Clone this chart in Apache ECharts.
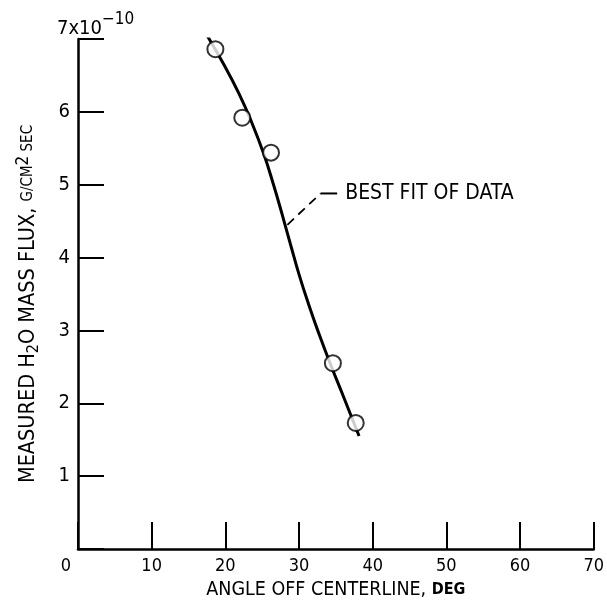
<!DOCTYPE html>
<html>
<head>
<meta charset="utf-8">
<script src="https://cdn.jsdelivr.net/npm/echarts@6/dist/echarts.min.js"></script>
<style>
html,body{margin:0;padding:0;background:#fff;}
#chart{width:607px;height:606px;}
</style>
</head>
<body>
<div id="chart"></div>
<script>
// ---- data ----
const xTicks = [0, 10, 20, 30, 40, 50, 60, 70];
const yTicks = [0, 1, 2, 3, 4, 5, 6, 7];
const measuredPoints = [[18.65, 6.86], [22.3, 5.92], [26.2, 5.44], [34.6, 2.55], [37.7, 1.73]];
const bestFitCurve = [
  [17.39, 7.07], [19.74, 6.66], [21.85, 6.25], [23.68, 5.83], [25.22, 5.42],
  [26.51, 5.01], [27.69, 4.60], [28.82, 4.19], [30.00, 3.77], [31.30, 3.36],
  [32.72, 2.95], [34.26, 2.54], [35.88, 2.13], [38.15, 1.55]
];
const leaderDashed = [[28.42, 4.45], [32.93, 4.88]];
const leaderSolid = [[32.93, 4.88], [35.18, 4.88]];
const annotationText = 'BEST FIT OF DATA';
const xTitle = 'ANGLE OFF CENTERLINE, ';
const xTitleUnit = 'DEG';
const yScaleMantissa = '7x10';
const yScaleExponent = '−10';

const FONT = '"DejaVu Sans Condensed", "Liberation Sans Narrow", "DejaVu Sans", sans-serif';

const chart = echarts.init(document.getElementById('chart'), null, {renderer: 'canvas'});
chart.setOption({
  backgroundColor: '#fff',
  animation: false,
  textStyle: {fontFamily: FONT, color: '#000'},
  title: {
    text: '{a|' + yScaleMantissa + '}{s|' + yScaleExponent + '}',
    left: 57, top: 11, padding: 0,
    textStyle: {
      fontWeight: 'normal',
      rich: {
        a: {fontFamily: FONT, fontSize: 20, fontWeight: 'normal', color: '#000', verticalAlign: 'bottom', lineHeight: 28},
        s: {fontFamily: FONT, fontSize: 17, fontWeight: 'normal', color: '#000', verticalAlign: 'top', lineHeight: 20}
      }
    }
  },
  grid: {left: 78, right: 11, top: 39, bottom: 57, containLabel: false},
  xAxis: {
    type: 'value', min: xTicks[0], max: xTicks[xTicks.length - 1], interval: 10,
    name: '{m|' + xTitle + '}{u|' + xTitleUnit + '}',
    nameLocation: 'middle', nameGap: 30,
    nameTextStyle: {
      rich: {
        m: {fontFamily: FONT, fontSize: 19.5, color: '#000'},
        u: {fontFamily: FONT, fontSize: 16, fontWeight: 'bold', color: '#000'}
      }
    },
    axisLine: {show: true, lineStyle: {color: '#000', width: 2.5}},
    axisTick: {show: true, inside: true, length: 27, lineStyle: {color: '#000', width: 2}},
    splitLine: {show: false},
    axisLabel: {
      fontFamily: FONT, fontSize: 18, color: '#000', margin: 8,
      formatter: v => v === 0 ? '{z|0}' : String(v),
      rich: {z: {fontFamily: FONT, fontSize: 18, color: '#000', padding: [0, 24, 0, 0]}}
    }
  },
  yAxis: {
    type: 'value', min: yTicks[0], max: yTicks[yTicks.length - 1], interval: 1,
    name: '{m|MEASURED H}{sb|2}{m|O MASS FLUX, }{sm|G/CM}{sp|2}{sm| SEC}',
    nameLocation: 'middle', nameRotate: 90, nameGap: 36,
    nameTextStyle: {
      padding: [0, 20, 0, 0],
      rich: {
        m: {fontFamily: FONT, fontSize: 21.5, color: '#000', lineHeight: 27},
        sb: {fontFamily: FONT, fontSize: 16, color: '#000', lineHeight: 16, verticalAlign: 'bottom'},
        sm: {fontFamily: FONT, fontSize: 15, color: '#000', lineHeight: 27},
        sp: {fontFamily: FONT, fontSize: 17, color: '#000', lineHeight: 17, verticalAlign: 'top'}
      }
    },
    axisLine: {show: true, lineStyle: {color: '#000', width: 2.5}},
    axisTick: {show: true, inside: true, length: 26, lineStyle: {color: '#000', width: 2}},
    splitLine: {show: false},
    axisLabel: {
      fontFamily: FONT, fontSize: 20, color: '#000', margin: 8,
      formatter: v => (v === 0 || v === 7) ? '' : String(v)
    }
  },
  series: [
    {
      type: 'line', data: bestFitCurve, smooth: true, symbol: 'none',
      lineStyle: {color: '#000', width: 3}, z: 2
    },
    {
      type: 'line', data: leaderDashed, symbol: 'none',
      lineStyle: {color: '#000', width: 1.8, type: [9, 6]}, z: 2
    },
    {
      type: 'line', data: leaderSolid.map((p, i) => i === leaderSolid.length - 1 ? {
        value: p,
        label: {show: true, position: 'right', distance: 8, formatter: annotationText,
          fontFamily: FONT, fontSize: 21, color: '#000'}
      } : {value: p}),
      symbol: 'circle', symbolSize: 0, showSymbol: true,
      lineStyle: {color: '#000', width: 2}, z: 2
    },
    {
      type: 'scatter', data: measuredPoints, symbol: 'circle', symbolSize: 16,
      itemStyle: {color: '#fff', borderColor: '#000', borderWidth: 2}, z: 5
    }
  ]
});
</script>
</body>
</html>
